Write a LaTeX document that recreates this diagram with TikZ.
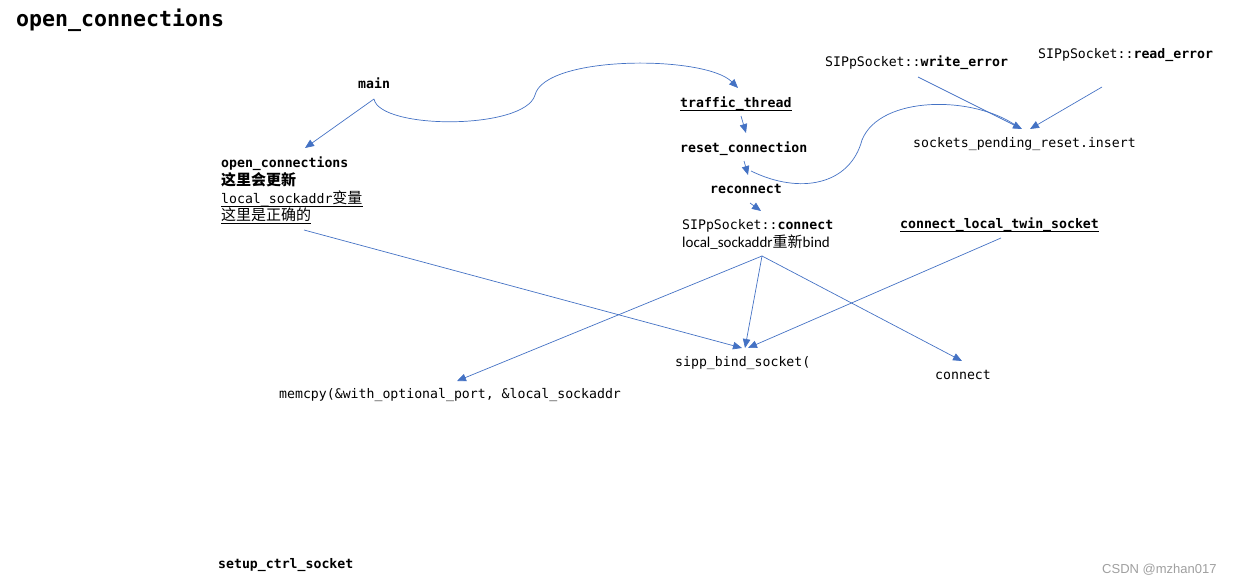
\documentclass[tikz,border=0pt]{standalone}
\usepackage{fontspec}
\setmainfont{Carlito}
\setmonofont{DejaVu Sans Mono}
\newfontfamily\cjk{Noto Sans CJK SC}
\newfontfamily\wmfont{Liberation Sans}
\usetikzlibrary{arrows.meta}
\definecolor{lnblue}{RGB}{68,114,196}
\begin{document}
\begin{tikzpicture}[x=1pt,y=-1pt,
  lbl/.style={anchor=base west,inner sep=0pt,font=\fontsize{13.2}{15}\ttfamily},
  blbl/.style={lbl,font=\fontsize{13.2}{15}\ttfamily\bfseries},
  conn/.style={draw=lnblue,line width=0.7pt,-{Triangle[length=9pt,width=7.5pt]}},
  plain/.style={draw=lnblue,line width=0.7pt},
  uline/.style={draw=black,line width=0.8pt}]
\useasboundingbox (0,0) rectangle (1233,583);
% title
\node[anchor=base west,inner sep=0pt,font=\fontsize{21.6}{24}\ttfamily\bfseries] (title) at (16,27) {open\_connections};
% nodes
\node[blbl] (main) at (358,89) {main};
\node[blbl] (oc) at (221,167) {open\_connections};
\node[anchor=base west,inner sep=0pt,font=\fontsize{15}{17}\cjk\bfseries] (oc2) at (221,185) {这里会更新};
\node[lbl] (oc3) at (221,203) {local\_sockaddr{\fontsize{15}{17}\cjk 变量}};
\node[anchor=base west,inner sep=0pt,font=\fontsize{15}{17}\cjk] (oc4) at (221,220) {这里是正确的};
\draw[uline] ([yshift=-3pt]oc3.base west) -- ([yshift=-3pt]oc3.base east);
\draw[uline] ([yshift=-3.5pt]oc4.base west) -- ([yshift=-3.5pt]oc4.base east);
\node[blbl] (tt) at (680,107) {traffic\_thread};
\draw[uline] ([yshift=-3pt]tt.base west) -- ([yshift=-3pt]tt.base east);
\node[blbl] (rc) at (680,152) {reset\_connection};
\node[blbl] (rcn) at (710,193) {reconnect};
\node[lbl] (sc) at (682,229) {SIPpSocket::\textbf{connect}};
\node[anchor=base west,inner sep=0pt,font=\fontsize{15}{17}\rmfamily] (sc2) at (682,247) {local\_sockaddr{\cjk 重新}bind};
\node[lbl] (we) at (825,67) {SIPpSocket::\textbf{write\_error}};
\node[lbl] (re) at (1038,59) {SIPpSocket::\textbf{read\_error}};
\node[lbl] (spr) at (913,147) {sockets\_pending\_reset.insert};
\node[blbl] (clt) at (900,228) {connect\_local\_twin\_socket};
\draw[uline] ([yshift=-3.5pt]clt.base west) -- ([yshift=-3.5pt]clt.base east);
\node[lbl] (sbs) at (675,366) {sipp\_bind\_socket(};
\node[lbl] (cn) at (935,379) {connect};
\node[lbl] (mc) at (279,398) {memcpy(\&with\_optional\_port, \&local\_sockaddr};
\node[blbl] (scs) at (218,568) {setup\_ctrl\_socket};
\node[anchor=base west,inner sep=0pt,font=\fontsize{13}{15}\wmfont,text=gray!75] (wm) at (1102,573) {CSDN @mzhan017};
% connector coordinates
\coordinate (mainS) at (374,99);
\coordinate (ocT) at (305,148);
\coordinate (ttT) at (738,88);
\coordinate (ttB) at (741,116);
\coordinate (rcT) at (746,133);
\coordinate (rcB) at (744,161);
\coordinate (rcnT) at (748,175);
\coordinate (rcnB) at (750,203);
\coordinate (scT) at (761,211);
\coordinate (scB) at (762,256);
\coordinate (ocB) at (304,230);
\coordinate (sbsT) at (745,348);
\coordinate (cnT) at (962,361);
\coordinate (mcT) at (457,381);
\coordinate (cltB) at (1001,238);
\coordinate (weB) at (918,77);
\coordinate (reB) at (1102,87);
\coordinate (sprT1) at (1022,129);
\coordinate (sprT2) at (1030,129);
% connectors
\draw[conn] (mainS) -- (ocT);
\draw[conn] (mainS) .. controls (380,130) and (525,130) .. (535,95) .. controls (545,55) and (705,55) .. (ttT);
\draw[conn] (ttB) -- (rcT);
\draw[conn] (rcB) -- (rcnT);
\draw[plain] (1018,127) .. controls (975,95) and (880,95) .. (862,140) .. controls (850,185) and (800,195) .. (751,171);
\draw[conn] (rcnB) -- (scT);
\draw[conn] (scB) -- (mcT);
\draw[conn] (scB) -- (sbsT);
\draw[conn] (scB) -- (cnT);
\draw[conn] (ocB) -- ([xshift=-3pt]sbsT);
\draw[conn] (cltB) -- ([xshift=3pt]sbsT);
\draw[conn] (weB) -- (sprT1);
\draw[conn] (reB) -- (sprT2);
\end{tikzpicture}
\end{document}
